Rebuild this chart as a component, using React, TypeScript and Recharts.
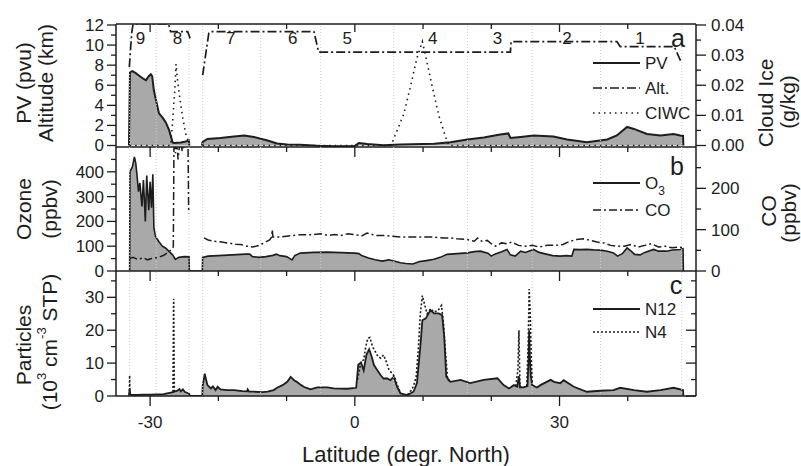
import React from "react";
import {
  ComposedChart,
  Area,
  Line,
  XAxis,
  YAxis,
  ReferenceLine,
  ReferenceDot,
} from "recharts";

const FONT = '"Liberation Sans", Arial, Helvetica, sans-serif';
const INK = "#1d1d1d";
const FILL = "#a9a9a9";
const GRID = "#cfcfcf";
const TICK_FS = 17;
const TITLE_FS = 21;

// shared latitude axis
const LAT_DOMAIN = [-35, 50];
const latTicks = [-30, -20, -10, 0, 10, 20, 30, 40];
const latMajor = [-30, 0, 30];

// flight legs (boundaries and numbers)
const legEdges = [-33.0, -29.1, -24.3, -22.3, -13.8, -5.0, 5.7, 16.5, 26.0, 36.0, 47.9];
const legNames = ["9", "8", "7", "6", "5", "4", "3", "2", "1"];
const legLabelLat = [-31.4, -26.0, -18.2, -9.1, -1.1, 11.4, 20.9, 31.1, 41.8];

// panel a: PV (pvu)
const pvLat = [-33.1, -32.95, -32.6, -32.1, -31.5, -30.9, -30.6, -30.2, -29.9, -29.7, -29.45, -29.2, -28.7, -28.2, -27.7, -27.2, -26.7, -26.5, -25.5, -24.8, -24.3, -24.25, -23.3, -22.4, -22.3, -21.6, -19.7, -17.7, -16.2, -14.8, -12.8, -11.4, -9.9, -8.0, -5.5, -3.1, -0.1, 0.6, 1.8, 4.2, 6.7, 11.6, 14.0, 16.5, 18.9, 21.3, 22.5, 22.8, 24.3, 26.2, 29.1, 31.1, 34.0, 37.0, 38.4, 39.9, 40.9, 42.8, 44.8, 46.7, 47.7, 48.1, 48.15];
const pvVal = [0, 7.3, 7.4, 7.2, 6.9, 6.6, 6.5, 6.9, 7.1, 6.9, 5.5, 4.7, 3.2, 2.8, 2.3, 1.5, 0.3, 0.25, 0.3, 0.4, 0.5, 0, null, 0, 0.35, 0.65, 0.75, 0.9, 1.0, 0.85, 0.5, 0.2, 0.1, 0.07, -0.03, -0.08, -0.08, 0.25, 0.15, 0.02, 0.1, 0.17, 0.33, 0.6, 0.8, 1.1, 1.2, 0.75, 0.85, 1.0, 0.9, 0.6, 0.33, 0.6, 1.0, 1.85, 1.65, 1.15, 1.0, 1.15, 1.0, 0.95, 0];

// panel a: altitude (km)
const altLat = [-33.05, -32.7, -32.5, -27.3, -27.0, -24.5, -24.0, -23.5, -22.3, -21.4, -21.2, -6.0, -5.3, 22.8, 22.9, 38.4, 38.9, 46.8, 47.9];
const altVal = [7.8, 11.2, 12.1, 12.1, 11.35, 11.35, 10.4, null, 7.0, 11.2, 11.35, 11.35, 9.3, 9.3, 10.35, 10.35, 9.85, 9.85, 8.2];

// panel a: cloud ice water content (g/kg)
const ciwcLat = [-33.0, -27.0, -26.7, -26.4, -26.2, -26.0, -25.6, -25.2, -24.8, -24.35, -24.3, -22.3, 5.3, 6.2, 7.2, 8.2, 9.1, 9.9, 10.4, 11.3, 12.3, 13.3, 13.8, 48.0];
const ciwcVal = [0, 0, 0.008, 0.018, 0.027, 0.022, 0.015, 0.009, 0.004, 0.001, null, 0, 0, 0.005, 0.0106, 0.02, 0.029, 0.0345, 0.0295, 0.02, 0.01, 0.0028, 0, 0];

// panel b: ozone (ppbv)
const ozLat = [-33.0, -32.95, -32.6, -32.3, -32.1, -31.9, -31.7, -31.5, -31.2, -30.98, -30.7, -30.5, -30.2, -30.0, -29.8, -29.6, -29.45, -29.2, -28.7, -28.2, -27.7, -27.2, -26.7, -26.3, -25.8, -25.0, -24.3, -24.25, -22.35, -22.3, -21.5, -20.0, -18.0, -16.0, -15.4, -15.0, -14.0, -13.0, -12.0, -11.5, -11.0, -10.0, -9.5, -9.2, -8.8, -8.0, -6.0, -4.0, -2.0, 0.0, 0.6, 1.0, 2.0, 3.0, 4.0, 5.0, 6.0, 6.7, 7.5, 8.5, 9.5, 10.5, 11.6, 12.5, 13.5, 15.0, 16.5, 17.5, 18.4, 19.5, 20.0, 20.5, 21.5, 22.3, 22.8, 23.5, 24.3, 25.0, 26.2, 27.0, 28.2, 29.0, 30.1, 31.0, 31.8, 32.1, 33.0, 34.0, 35.0, 36.0, 37.0, 37.9, 38.5, 39.2, 39.9, 40.5, 41.0, 41.8, 42.5, 43.8, 44.5, 45.7, 46.5, 47.7, 48.1, 48.15];
const ozVal = [0, 400, 420, 460, 434, 380, 320, 355, 260, 367, 200, 385, 245, 360, 255, 390, 175, 138, 118, 100, 92, 78, 65, 47, 55, 58, 57, 0, 0, 55, 60, 62, 65, 68, 68, 58, 55, 58, 63, 68, 62, 58, 50, 45, 62, 72, 75, 76, 74, 72, 70, 62, 52, 45, 40, 45, 38, 33, 30, 28, 38, 42, 47, 55, 67, 70, 73, 78, 80, 72, 60, 68, 78, 87, 65, 60, 80, 75, 87, 75, 67, 62, 60, 62, 60, 87, 86, 87, 85, 84, 80, 73, 60, 70, 93, 80, 67, 65, 75, 87, 80, 80, 85, 87, 90, 0];

// panel b: CO (ppbv)
const coLat = [-33.0, -32.5, -31.8, -31.0, -30.4, -29.8, -29.4, -28.9, -28.0, -27.2, -26.6, -26.5, -26.3, -26.1, -25.9, -25.6, -25.3, -24.9, -24.45, -24.35, -24.3, -22.1, -21.5, -20.6, -19.5, -18.7, -17.5, -16.7, -15.8, -15.0, -14.0, -13.3, -12.5, -12.2, -12.1, -12.0, -11.0, -10.0, -8.0, -6.0, -5.0, -4.0, -3.0, -2.0, -1.0, 0.0, 1.0, 1.8, 3.0, 4.2, 5.5, 6.7, 8.0, 10.0, 11.6, 13.0, 14.0, 15.0, 16.5, 17.5, 18.0, 18.6, 19.4, 20.0, 20.6, 21.5, 22.3, 23.0, 24.0, 25.0, 26.0, 27.0, 28.2, 29.5, 30.5, 31.5, 32.5, 33.5, 34.5, 35.5, 36.5, 37.5, 38.5, 39.5, 40.5, 41.5, 42.5, 43.5, 44.5, 45.5, 46.5, 47.5, 48.1];
const coVal = [30, 33, 28, 32, 27, 30, 31, 32, 38, 47, 58, 320, 285, 310, 270, 320, 290, 320, 310, 140, null, 80, 75, 72, 70, 68, 65, 64, 60, 58, 62, 68, 75, 82, 100, 82, 82, 84, 88, 88, 90, 86, 88, 86, 90, 88, 85, 92, 86, 86, 84, 82, 82, 82, 82, 80, 80, 78, 76, 72, 80, 72, 74, 66, 60, 68, 66, 70, 62, 60, 62, 58, 62, 62, 64, 72, 76, 78, 74, 70, 68, 62, 60, 60, 64, 58, 62, 66, 58, 60, 56, 58, 56];

// panel c: N12 particles (10^3 cm-3 STP)
const n12Lat = [-33.1, -33.0, -32.9, -32.0, -31.0, -30.0, -29.0, -28.0, -27.5, -27.0, -26.6, -26.5, -26.0, -25.7, -25.5, -25.2, -24.9, -24.6, -24.25, -24.2, -22.35, -22.3, -22.0, -21.8, -21.6, -21.1, -20.8, -20.4, -20.1, -19.7, -18.7, -17.7, -16.5, -15.8, -15.7, -15.5, -14.8, -13.5, -12.8, -11.9, -11.4, -10.6, -9.9, -9.4, -9.1, -8.9, -8.5, -8.2, -7.5, -6.5, -5.5, -4.0, -3.1, -1.1, 0.2, 0.5, 0.9, 1.1, 1.3, 1.7, 2.1, 2.5, 2.8, 3.3, 3.8, 4.2, 4.7, 5.2, 5.7, 6.2, 6.7, 7.7, 8.6, 9.1, 9.6, 9.9, 10.4, 11.1, 11.6, 12.3, 12.8, 13.1, 13.4, 14.0, 15.5, 16.9, 18.9, 20.9, 21.8, 22.6, 23.3, 23.8, 24.05, 24.2, 24.7, 25.3, 25.45, 25.55, 25.65, 25.8, 26.0, 26.7, 27.2, 28.7, 29.2, 30.1, 30.6, 32.1, 34.0, 36.0, 37.9, 38.9, 40.9, 42.8, 44.8, 46.7, 48.1, 48.15];
const n12Val = [0, 2.0, 0.4, 0.3, 0.4, 0.4, 0.5, 0.6, 0.8, 1.0, 1.2, 1.3, 1.6, 2.1, 1.4, 2.0, 1.2, 1.0, 0.6, 0, 0, 3.0, 6.8, 5.0, 3.3, 2.3, 2.9, 1.8, 2.8, 2.0, 1.8, 1.8, 1.5, 1.4, 2.0, 1.3, 1.3, 1.2, 1.3, 1.8, 2.5, 3.3, 4.3, 5.8, 5.2, 4.8, 4.3, 3.8, 2.8, 2.0, 2.6, 2.6, 2.3, 2.2, 2.5, 9.5, 10.2, 9.0, 7.8, 12.5, 14.2, 11.8, 9.4, 7.8, 6.3, 5.3, 5.4, 4.8, 5.8, 2.8, 0.8, 0.3, 1.3, 3.9, 15, 23, 23.6, 26.1, 25.1, 25.1, 24.6, 18, 5.9, 4.3, 4.9, 3.9, 4.9, 5.4, 3.3, 2.3, 3.3, 2.8, 6, 2.6, 2.6, 3, 10, 20, 12, 6, 3.3, 2.6, 3.3, 4.9, 4.3, 3.9, 4.8, 2.8, 1.3, 1.6, 1.8, 2.5, 1.8, 1.3, 1.8, 2.5, 1.8, 0];

// panel c: N4 where it rises above N12
const n4Lat = [-33.05, -33.0, -32.95, -32.9, -26.65, -26.55, -26.45, -26.4, 0.4, 0.9, 1.3, 1.6, 1.9, 2.2, 2.6, 3.0, 3.4, 3.8, 4.2, 4.6, 5.0, 5.4, 5.8, 6.2, 6.7, 7.0, 7.7, 8.2, 8.6, 9.0, 9.3, 9.6, 9.9, 10.2, 10.6, 11.1, 11.6, 12.2, 12.7, 13.0, 13.3, 13.6, 14.0, 14.2, 23.6, 23.9, 24.05, 24.2, 24.4, 24.5, 25.2, 25.4, 25.55, 25.7, 25.85, 26.0];
const n4Val = [0.4, 6.3, 0.4, null, 1.2, 29.5, 1.3, null, 5, 10.5, 11, 15, 17.5, 17.8, 15, 13.5, 12, 11.5, 12.5, 10.5, 8, 7, 6.0, 3.5, 0.8, null, 0.4, 1.5, 3, 6, 14, 25, 30.5, 28, 25, 26.5, 25.5, 26, 27.5, 22, 13, 5, 4.3, null, 3, 8, 20, 3, 2.6, null, 3, 15, 32.5, 25, 12, 3.3];

const pvTicks = [0, 1, 2, 3, 4, 5, 6, 7, 8, 9, 10, 11, 12];
const ciwcTicks = [0, 0.005, 0.01, 0.015, 0.02, 0.025, 0.03, 0.035, 0.04];
const ozTicks = [0, 50, 100, 150, 200, 250, 300, 350, 400, 450];
const coTicks = [0, 50, 100, 150, 200, 250];
const nTicks = [0, 5, 10, 15, 20, 25, 30, 35];

const zip = (lat: number[], val: (number | null)[]) =>
  lat.map((l, i) => ({ lat: l, v: val[i] }));

const pvData = zip(pvLat, pvVal);
const altData = zip(altLat, altVal);
const ciwcData = zip(ciwcLat, ciwcVal);
const ozData = zip(ozLat, ozVal);
const coData = zip(coLat, coVal);
const n12Data = zip(n12Lat, n12Val);
const n4Data = zip(n4Lat, n4Val);

const axisLine = { stroke: INK, strokeWidth: 1.5 };
const txt = { fontFamily: FONT, fill: INK };

const leftTick =
  (isMajor: (v: number) => boolean, fmt: (v: number) => string) => (p: any) => {
    const v = p.payload.value;
    const big = isMajor(v);
    return (
      <g>
        <line x1={p.x} y1={p.y} x2={p.x - (big ? 9 : 5)} y2={p.y} stroke={INK} strokeWidth={1.3} />
        {big && (
          <text x={p.x - 12} y={p.y + 6} textAnchor="end" fontSize={TICK_FS} {...txt}>
            {fmt(v)}
          </text>
        )}
      </g>
    );
  };

const rightTick =
  (isMajor: (v: number) => boolean, fmt: ((v: number) => string) | null, inward = false) =>
  (p: any) => {
    const v = p.payload.value;
    const big = isMajor(v);
    const len = big ? 10 : 5;
    return (
      <g>
        <line x1={p.x} y1={p.y} x2={inward ? p.x - len : p.x + len} y2={p.y} stroke={INK} strokeWidth={1.3} />
        {big && fmt && (
          <text x={p.x + 15} y={p.y + 6} textAnchor="start" fontSize={TICK_FS} {...txt}>
            {fmt(v)}
          </text>
        )}
      </g>
    );
  };

const bottomTick = (withLabel: boolean) => (p: any) => {
  const v = p.payload.value;
  const big = latMajor.includes(v);
  return (
    <g>
      <line x1={p.x} y1={p.y} x2={p.x} y2={p.y + (big ? 10 : 5)} stroke={INK} strokeWidth={1.3} />
      {withLabel && big && (
        <text x={p.x} y={p.y + 32} textAnchor="middle" fontSize={TICK_FS} {...txt}>
          {v}
        </text>
      )}
    </g>
  );
};

const topTick = (p: any) => {
  const big = latMajor.includes(p.payload.value);
  return <line x1={p.x} y1={p.y} x2={p.x} y2={p.y + (big ? 8 : 5)} stroke={INK} strokeWidth={1.3} />;
};

const latAxis = (id: number | string, tick: any, height: number, orientation: "top" | "bottom" = "bottom") => (
  <XAxis
    xAxisId={id}
    orientation={orientation}
    type="number"
    dataKey="lat"
    domain={LAT_DOMAIN}
    allowDataOverflow
    ticks={latTicks}
    interval={0}
    height={height}
    tickSize={0}
    tickMargin={0}
    tickLine={false}
    tick={tick}
    axisLine={axisLine}
  />
);

const grid = () =>
  legEdges.map((e) => (
    <ReferenceLine key={e} xAxisId={0} yAxisId="l" x={e} stroke={GRID} strokeDasharray="1 2" strokeWidth={1} />
  ));

const Rot = ({ x, y, children, size = TITLE_FS }: any) => (
  <text
    x={x}
    y={y}
    transform={`rotate(-90 ${x} ${y})`}
    textAnchor="middle"
    dominantBaseline="central"
    fontSize={size}
    {...txt}
  >
    {children}
  </text>
);

const LegendRow = ({ y, dash, label, width = 2 }: any) => (
  <g>
    <line x1={593} x2={640} y1={y} y2={y} stroke={INK} strokeWidth={width} strokeDasharray={dash} />
    <text x={645} y={y + 6} fontSize={17} {...txt}>
      {label}
    </text>
  </g>
);

export default function App() {
  return (
    <div style={{ position: "absolute", left: 0, top: 0, width: 801, height: 466, background: "#fff", fontFamily: FONT }}>
      {/* panel a */}
      <div style={{ position: "absolute", left: 0, top: 0 }}>
        <ComposedChart width={801} height={160} margin={{ top: 14, right: 0, bottom: 0, left: 0 }}>
          {latAxis("top", topTick, 10, "top")}
          {latAxis(0, bottomTick(false), 13)}
          <YAxis yAxisId="l" width={116} type="number" domain={[-0.15, 12.1]} allowDataOverflow ticks={pvTicks} interval={0}
            tickSize={0} tickMargin={0} tickLine={false} axisLine={axisLine}
            tick={leftTick((v) => v % 2 === 0, (v) => String(v))} />
          <YAxis yAxisId="r" orientation="right" width={105} type="number" domain={[-0.0005, 0.04033]} allowDataOverflow
            ticks={ciwcTicks} interval={0} tickSize={0} tickMargin={0} tickLine={false} axisLine={axisLine}
            tick={rightTick((v) => Math.round(v * 1000) % 10 === 0, (v) => v.toFixed(2))} />
          {grid()}
          <Area xAxisId={0} yAxisId="l" data={pvData} dataKey="v" type="linear" baseValue={0} stroke={INK} strokeWidth={2}
            fill={FILL} fillOpacity={1} dot={false} activeDot={false} isAnimationActive={false} />
          <Line xAxisId={0} yAxisId="l" data={altData} dataKey="v" type="linear" stroke={INK} strokeWidth={1.7}
            strokeDasharray="9 3 2 3" dot={false} activeDot={false} isAnimationActive={false} />
          <Line xAxisId={0} yAxisId="r" data={ciwcData} dataKey="v" type="linear" stroke={INK} strokeWidth={1.6}
            strokeDasharray="1.5 4" dot={false} activeDot={false} isAnimationActive={false} />
          {legNames.map((s, i) => (
            <ReferenceDot key={s} xAxisId={0} yAxisId="l" x={legLabelLat[i]} y={10.7} r={1} fill="none" stroke="none"
              label={{ value: s, position: "center", fontSize: 17, fill: INK, fontFamily: FONT }} />
          ))}
        </ComposedChart>
      </div>

      {/* panel b */}
      <div style={{ position: "absolute", left: 0, top: 147 }}>
        <ComposedChart width={801} height={137} margin={{ top: 0, right: 0, bottom: 0, left: 0 }}>
          {latAxis(0, bottomTick(false), 13)}
          <YAxis yAxisId="l" width={116} type="number" domain={[0, 500]} allowDataOverflow ticks={ozTicks} interval={0}
            tickSize={0} tickMargin={0} tickLine={false} axisLine={axisLine}
            tick={leftTick((v) => v % 100 === 0, (v) => String(v))} />
          <YAxis yAxisId="r" orientation="right" width={105} type="number" domain={[0, 300]} allowDataOverflow
            ticks={coTicks} interval={0} tickSize={0} tickMargin={0} tickLine={false} axisLine={axisLine}
            tick={rightTick((v) => v % 100 === 0, (v) => String(v))} />
          {grid()}
          <Area xAxisId={0} yAxisId="l" data={ozData} dataKey="v" type="linear" baseValue={0} stroke={INK} strokeWidth={1.6}
            fill={FILL} fillOpacity={1} dot={false} activeDot={false} isAnimationActive={false} />
          <Line xAxisId={0} yAxisId="r" data={coData} dataKey="v" type="linear" stroke={INK} strokeWidth={1.5}
            strokeDasharray="8 3 2 3" dot={false} activeDot={false} isAnimationActive={false} />
        </ComposedChart>
      </div>

      {/* panel c */}
      <div style={{ position: "absolute", left: 0, top: 271 }}>
        <ComposedChart width={801} height={195} margin={{ top: 0, right: 0, bottom: 0, left: 0 }}>
          {latAxis(0, bottomTick(true), 70)}
          <YAxis yAxisId="l" width={116} type="number" domain={[0, 38]} allowDataOverflow ticks={nTicks} interval={0}
            tickSize={0} tickMargin={0} tickLine={false} axisLine={axisLine}
            tick={leftTick((v) => v % 10 === 0, (v) => String(v))} />
          <YAxis yAxisId="r" orientation="right" width={105} type="number" domain={[0, 38]} allowDataOverflow
            ticks={nTicks} interval={0} tickSize={0} tickMargin={0} tickLine={false} axisLine={axisLine}
            tick={rightTick((v) => v % 10 === 0, null, true)} />
          {grid()}
          <Area xAxisId={0} yAxisId="l" data={n12Data} dataKey="v" type="linear" baseValue={0} stroke={INK} strokeWidth={1.8}
            fill={FILL} fillOpacity={1} dot={false} activeDot={false} isAnimationActive={false} />
          <Line xAxisId={0} yAxisId="l" data={n4Data} dataKey="v" type="linear" stroke={INK} strokeWidth={1.6}
            strokeDasharray="2 2" dot={false} activeDot={false} isAnimationActive={false} />
        </ComposedChart>
      </div>

      {/* titles, legends, panel letters */}
      <svg width={801} height={466} style={{ position: "absolute", left: 0, top: 0, pointerEvents: "none" }}>
        <Rot x={23} y={83}>PV (pvu)</Rot>
        <Rot x={45} y={83}>Altitude (km)</Rot>
        <Rot x={23} y={209}>Ozone</Rot>
        <Rot x={49} y={209}>(ppbv)</Rot>
        <Rot x={23} y={345}>Particles</Rot>
        <Rot x={49} y={342}>
          (10<tspan fontSize={13} dy={-8}>3</tspan>
          <tspan dy={8}> cm</tspan>
          <tspan fontSize={13} dy={-8}>-3</tspan>
          <tspan dy={8}> STP)</tspan>
        </Rot>
        <Rot x={765} y={103}>Cloud Ice</Rot>
        <Rot x={787} y={102}>(g/kg)</Rot>
        <Rot x={768} y={211}>CO</Rot>
        <Rot x={788} y={213}>(ppbv)</Rot>
        <text x={406} y={462} textAnchor="middle" fontSize={22} {...txt}>
          Latitude (degr. North)
        </text>

        <LegendRow y={63} label="PV" />
        <LegendRow y={88} label="Alt." dash="9 3 2 3" width={1.7} />
        <LegendRow y={113} label="CIWC" dash="1.5 4" width={1.6} />
        <LegendRow y={183} label={<>O<tspan fontSize={12} dy={6}>3</tspan></>} />
        <LegendRow y={210} label="CO" dash="8 3 2 3" width={1.5} />
        <LegendRow y={309} label="N12" />
        <LegendRow y={332} label="N4" dash="2 2" width={1.6} />

        <text x={678} y={47} textAnchor="middle" fontSize={25} {...txt}>a</text>
        <text x={677} y={175} textAnchor="middle" fontSize={25} {...txt}>b</text>
        <text x={676} y={294} textAnchor="middle" fontSize={25} {...txt}>c</text>
      </svg>
    </div>
  );
}
